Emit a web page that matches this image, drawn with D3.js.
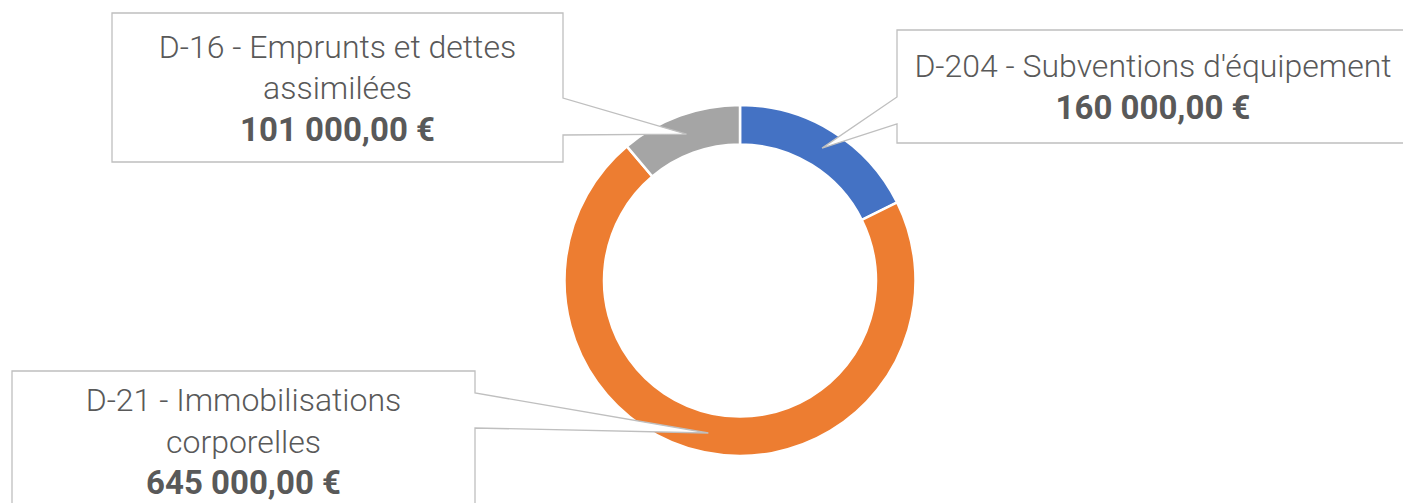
<!DOCTYPE html>
<html><head><meta charset="utf-8">
<script src="https://cdn.jsdelivr.net/npm/d3@7"></script>
<style>html,body{margin:0;padding:0;background:#fff;overflow:hidden}</style>
</head><body><svg id="c" width="1403" height="503"></svg>
<script>
const categories = ["D-204 - Subventions d'équipement", "D-21 - Immobilisations corporelles", "D-16 - Emprunts et dettes assimilées"];
const values = [160000, 645000, 101000];
const colors = ["#4472C4", "#ED7D31", "#A5A5A5"];

const layout = {cx: 740, cy: 280.5, outer: 175.5, inner: 136, lineH: 41.5, cap: 23, labelSize: 32, valueSize: 33};
const boxes = [
  {x: 897, y: 30, w: 512, h: 113, b1: 97, b2: 124, side: "left"},
  {x: 12, y: 371, w: 463, h: 140, b1: 393, b2: 428, side: "right"},
  {x: 112, y: 13, w: 451, h: 149, b1: 98, b2: 135, side: "right"}
];

const locale = d3.formatLocale({decimal: ",", thousands: "\u00a0", grouping: [3], currency: ["", "\u00a0€"]});
const fmt = locale.format("$,.2f");

const svg = d3.select("#c");
const g = svg.append("g").attr("transform", `translate(${layout.cx},${layout.cy})`);
const pie = d3.pie().sort(null).value(d => d)(values);
const arc = d3.arc().innerRadius(layout.inner).outerRadius(layout.outer);

g.selectAll("path.slice").data(pie).join("path")
  .attr("class", "slice")
  .attr("d", arc)
  .attr("fill", (d, i) => colors[i])
  .attr("stroke", "#fff").attr("stroke-width", 2.5);

const fontFam = "Roboto, 'Open Sans', 'Liberation Sans', sans-serif";

pie.forEach((d, i) => {
  const b = boxes[i];
  const c = arc.centroid(d);
  const tx = c[0] + layout.cx, ty = c[1] + layout.cy;
  const p = d3.path();
  if (b.side === "right") {
    p.moveTo(b.x, b.y); p.lineTo(b.x + b.w, b.y); p.lineTo(b.x + b.w, b.b1);
    p.lineTo(tx, ty); p.lineTo(b.x + b.w, b.b2); p.lineTo(b.x + b.w, b.y + b.h);
    p.lineTo(b.x, b.y + b.h); p.closePath();
  } else {
    p.moveTo(b.x, b.y); p.lineTo(b.x + b.w, b.y); p.lineTo(b.x + b.w, b.y + b.h);
    p.lineTo(b.x, b.y + b.h); p.lineTo(b.x, b.b2); p.lineTo(tx, ty);
    p.lineTo(b.x, b.b1); p.closePath();
  }
  svg.append("path").attr("d", p.toString()).attr("fill", "#fff")
    .attr("stroke", "#BFBFBF").attr("stroke-width", 1.3);

  const t = svg.append("text").attr("font-family", fontFam)
    .attr("fill", "#595959").attr("text-anchor", "middle");
  const words = categories[i].split(" ");
  const lines = [];
  let cur = "";
  const probe = svg.append("text").attr("font-family", fontFam).attr("font-size", layout.labelSize).attr("font-weight", 300);
  words.forEach(w => {
    const test = cur ? cur + " " + w : w;
    probe.text(test);
    if (probe.node().getComputedTextLength() > b.w - 24 && cur) { lines.push(cur); cur = w; }
    else cur = test;
  });
  lines.push(cur);
  probe.remove();
  const all = lines.concat([fmt(values[i])]);
  const midX = b.x + b.w / 2;
  const midY = b.y + b.h / 2;
  const first = midY - (all.length - 1) * layout.lineH / 2 + layout.cap / 2;
  all.forEach((ln, k) => {
    const isVal = k === all.length - 1;
    t.append("tspan").attr("x", midX).attr("y", first + k * layout.lineH)
      .attr("font-weight", isVal ? 700 : 300)
      .attr("font-size", isVal ? layout.valueSize : layout.labelSize)
      .text(ln);
  });
});
</script></body></html>
